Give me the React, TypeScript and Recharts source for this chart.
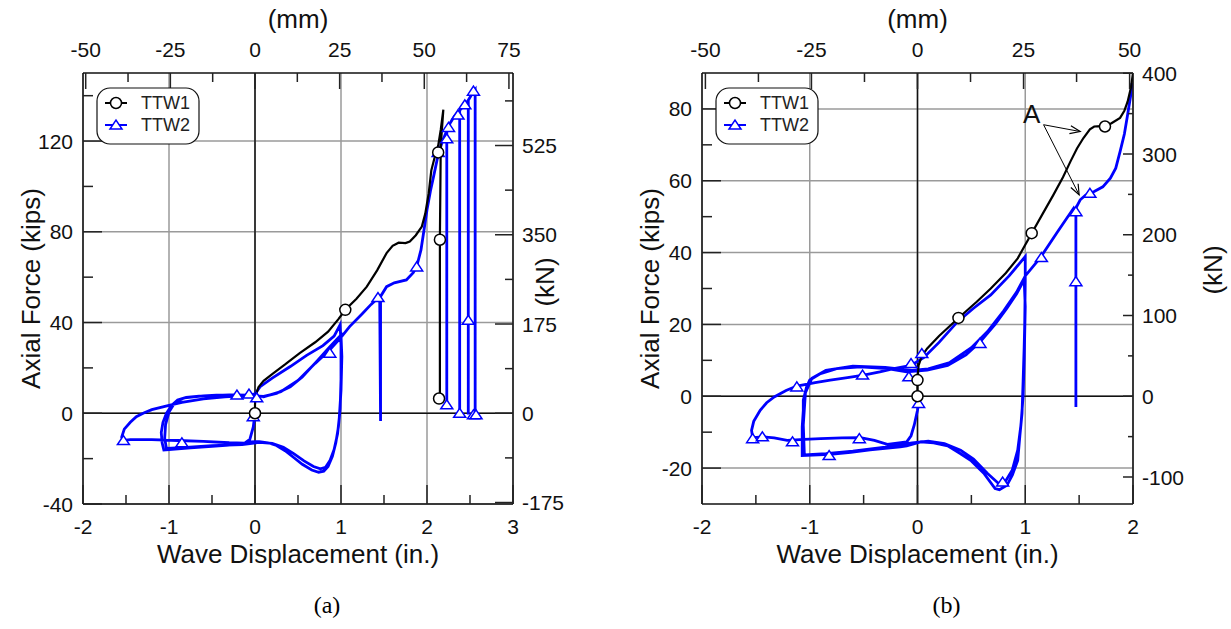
import React from "react";
import {
  ComposedChart,
  Line,
  Scatter,
  XAxis,
  YAxis,
  CartesianGrid,
  ReferenceLine,
  ReferenceDot,
  Legend,
} from "recharts";

type Pt = [number, number];

const KN_PER_KIP = 4.448;
const MM_PER_IN = 25.4;
const SANS = "'Liberation Sans', Arial, sans-serif";
const BLUE = "#0000ff";

// ---------- panel (a) ----------
const ttw1A: Pt[] = [
  [0, 0], [0, 4], [0.01, 8], [0.04, 11.5], [0.1, 14.3], [0.2, 17.3], [0.35, 21.5],
  [0.52, 26.5], [0.7, 31.3], [0.85, 36], [0.97, 41.5], [1.05, 45.6], [1.18, 50.5],
  [1.3, 55.8], [1.42, 63], [1.53, 70.6], [1.6, 73.8], [1.67, 75.2], [1.75, 75],
  [1.8, 75.7], [1.87, 78.5], [1.94, 82.3], [1.98, 88], [2.02, 97], [2.05, 107],
  [2.09, 113], [2.13, 118], [2.16, 125], [2.19, 133.8], [2.16, 118], [2.15, 77], [2.15, 6],
];
const ttw1AMarks: Pt[] = [[0, 0], [1.05, 45.6], [2.13, 115], [2.15, 76.5], [2.14, 6.5]];

const ttw2A: Pt[] = [
  [0, 0], [-0.02, -6], [-0.06, -11.5], [-0.12, -13.2], [-0.3, -13], [-0.6, -12.4],
  [-0.9, -12], [-1.2, -11.6], [-1.45, -11.6], [-1.53, -12], [-1.55, -10.5], [-1.52, -7],
  [-1.45, -4], [-1.38, -1.5], [-1.3, 0], [-1.2, 1.6], [-1.0, 3.5], [-0.85, 4.8],
  [-0.6, 6.3], [-0.35, 7.2], [-0.1, 7.8], [0, 8.5],
  [0.06, 11.7], [0.2, 15.5], [0.41, 20.6], [0.6, 25.5], [0.79, 29.8], [0.92, 34], [0.99, 39],
  [1.0, 30], [1.0, 15], [0.99, 2], [0.97, -6], [0.94, -13], [0.9, -19], [0.85, -23.5],
  [0.8, -25.5], [0.74, -26], [0.66, -25], [0.55, -22.5], [0.45, -19.5], [0.35, -16.5],
  [0.25, -14.2], [0.15, -13], [0.05, -12.5], [-0.05, -12.6], [-0.15, -13.5],
  [-0.3, -14], [-0.5, -14.6], [-0.75, -15.3], [-1.0, -16], [-1.06, -16.2], [-1.08, -13],
  [-1.09, -8.5], [-1.07, -4], [-1.03, 0], [-0.97, 3.5], [-0.9, 5.8], [-0.8, 7],
  [-0.65, 7.6], [-0.45, 8], [-0.2, 8], [-0.05, 7.8],
  [0.1, 7.4], [0.25, 8.8], [0.41, 11.7], [0.55, 16], [0.72, 23], [0.85, 28.5], [0.95, 32.5], [1.0, 34.5],
  [1.01, 25], [1.0, 10], [0.98, -2], [0.96, -9], [0.92, -16], [0.87, -21], [0.82, -23.8],
  [0.76, -24.5], [0.68, -23.5], [0.57, -21], [0.45, -17.8], [0.33, -15], [0.2, -13.3],
  [0.05, -12.8], [-0.15, -13.8], [-0.5, -14.3], [-0.8, -15], [-1.03, -15.5], [-1.05, -11],
  [-1.04, -5], [-1.0, 0.5], [-0.93, 4.8], [-0.82, 6.8], [-0.6, 7.7], [-0.3, 8.1], [-0.05, 8],
  [0.1, 7.2], [0.3, 9.5], [0.5, 14.5], [0.7, 22], [0.87, 28], [1.0, 33.5], [1.1, 38.2],
  [1.25, 44], [1.35, 48], [1.45, 51.5], [1.46, -3.4], [1.46, 51.5], [1.53, 55.8],
  [1.62, 57.5], [1.76, 58.8], [1.84, 62], [1.88, 64.7], [1.93, 72], [1.97, 82], [2.0, 89.7],
  [2.04, 98], [2.08, 105], [2.13, 114], [2.18, 120], [2.23, 124.5], [2.23, 3.7], [2.23, 124.5],
  [2.27, 128], [2.32, 131], [2.38, 133.5], [2.38, -0.5], [2.38, 133.5], [2.44, 136],
  [2.48, 138], [2.48, -0.5], [2.48, 138], [2.52, 140.5], [2.56, 142.6], [2.56, -1],
];
const ttw2AMarks: Pt[] = [
  [-1.53, -12], [-0.85, -13], [-0.21, 8], [-0.07, 8.5], [0.02, 6.8], [-0.02, -1.5],
  [0.87, 26.5], [1.43, 51], [1.88, 64.5], [2.13, 115], [2.23, 121], [2.25, 126],
  [2.36, 131.5], [2.44, 136], [2.54, 142], [2.23, 3.7], [2.38, 0], [2.48, 41],
  [2.54, -0.7], [2.57, -0.7],
];

// ---------- panel (b) ----------
const ttw1B: Pt[] = [
  [0, 0], [0, 4.5], [0.01, 8.6], [0.04, 11.2], [0.09, 13.3], [0.2, 16.8], [0.38, 21.8],
  [0.55, 26.3], [0.68, 30], [0.82, 34.3], [0.93, 38.4], [1.06, 45.4], [1.16, 50.7],
  [1.26, 56], [1.35, 61], [1.42, 65.4], [1.48, 69], [1.54, 71.9], [1.6, 74.3], [1.64, 75.1],
  [1.7, 75.2], [1.74, 75.1], [1.8, 76], [1.88, 77.5], [1.92, 79.5], [1.95, 82], [1.98, 85.8],
  [2.0, 90],
];
const ttw1BMarks: Pt[] = [[0, 0], [0, 4.5], [0.38, 21.8], [1.06, 45.4], [1.74, 75.1]];

const ttw2B: Pt[] = [
  [0, 0], [0.01, -2], [0, -3.9], [-0.03, -8], [-0.06, -11], [-0.1, -12.7], [-0.28, -13.4],
  [-0.4, -12.3], [-0.53, -11.5], [-0.7, -11.6], [-0.9, -11.8], [-1.05, -12], [-1.21, -12.3],
  [-1.33, -11.6], [-1.43, -11.3], [-1.53, -11.5], [-1.54, -9.5], [-1.52, -7], [-1.46, -3.9],
  [-1.4, -1.8], [-1.33, -0.2], [-1.22, 1.6], [-1.12, 2.8], [-0.95, 3.8], [-0.81, 4.5],
  [-0.65, 5.2], [-0.5, 5.9], [-0.35, 6.8], [-0.22, 7.7], [-0.06, 8.6],
  [0.06, 10.8], [0.2, 15], [0.37, 20.7], [0.52, 24.5], [0.68, 28.2], [0.85, 33.5], [1.0, 38.9],
  [1.0, 32], [0.995, 20], [0.99, 13.7], [0.98, 4], [0.97, -4.8], [0.95, -11], [0.93, -17.9],
  [0.88, -22], [0.83, -24.8], [0.76, -26], [0.72, -25.7], [0.62, -21.6], [0.5, -18],
  [0.4, -16], [0.28, -13.8], [0.15, -13], [0.03, -12.7], [-0.1, -13.8], [-0.16, -14.1],
  [-0.3, -14.5], [-0.44, -14.9], [-0.62, -15.6], [-0.81, -16.2], [-1.07, -16.5],
  [-1.07, -12], [-1.07, -8.6], [-1.06, -4], [-1.06, -1.1], [-1.03, 2.5], [-1.0, 4.5],
  [-0.9, 6.3], [-0.75, 7.7], [-0.53, 8.2], [-0.28, 7.7], [-0.1, 6.8], [0.09, 7.3],
  [0.28, 8.6], [0.45, 11.5], [0.58, 15.1], [0.72, 20], [0.83, 24.5], [0.92, 28.5], [0.99, 32.4],
  [1.0, 25], [0.99, 10], [0.98, 0], [0.96, -8], [0.93, -15], [0.88, -20.5], [0.81, -24],
  [0.76, -24.5], [0.65, -21.5], [0.52, -17.5], [0.4, -15], [0.25, -13.2], [0.1, -12.5],
  [-0.05, -13], [-0.3, -14.2], [-0.6, -15.3], [-0.85, -16], [-1.05, -16.3], [-1.06, -8],
  [-1.04, 1], [-0.98, 5], [-0.85, 7.2], [-0.6, 8.4], [-0.3, 8], [-0.05, 7.2], [0.1, 7.6],
  [0.3, 9.4], [0.5, 13.5], [0.65, 18], [0.8, 23.8], [0.92, 29], [1.0, 33.5], [1.14, 38.6],
  [1.3, 45.8], [1.45, 52.4], [1.47, 51.4], [1.47, -3], [1.47, 52.4], [1.51, 54.7], [1.56, 56],
  [1.64, 57], [1.72, 58.3], [1.79, 60.7], [1.84, 63.5], [1.88, 68.1], [1.92, 73], [1.95, 78.4],
  [1.98, 84], [1.99, 87.2],
];
const ttw2BMarks: Pt[] = [
  [-1.53, -11.8], [-1.44, -11.3], [-1.16, -12.7], [-0.54, -11.8], [-0.82, -16.5],
  [-1.12, 2.6], [-0.51, 5.9], [-0.06, 9.1], [-0.08, 5.4], [0.04, 11.9], [0.01, -2],
  [0.58, 14.7], [1.15, 38.6], [1.47, 51.4], [1.47, 31.9], [1.6, 56.5], [0.79, -23.9],
];

// annotation "A" (panel b)
const labelA: Pt = [1.06, 78.6];
const arrowsB: { from: Pt; to: Pt }[] = [
  { from: [1.17, 75.6], to: [1.51, 73.7] },
  { from: [1.17, 75.6], to: [1.5, 56.1] },
];

const rows = (pts: Pt[]) => pts.map(([x, y]) => ({ x, y }));

function AxisTick(props: any) {
  const { x, y, payload, side, majors, major, minor } = props;
  const v = payload.value;
  const isMajor = majors.includes(v);
  const len = isMajor ? major : minor;
  const font = { fontFamily: SANS, fontSize: 21, fill: "#111" };
  let ln: number[] = [x, y, x, y];
  let label: React.ReactNode = null;
  if (side === "left") {
    ln = [x, y, x + len, y];
    label = <text x={x - 10} y={y} dy="0.36em" textAnchor="end" {...font}>{v}</text>;
  } else if (side === "right") {
    ln = [x, y, x - len, y];
    label = <text x={x + 9} y={y} dy="0.36em" textAnchor="start" {...font}>{v}</text>;
  } else if (side === "bottom") {
    ln = [x, y, x, y - len];
    label = <text x={x} y={y + 30} textAnchor="middle" {...font}>{v}</text>;
  } else {
    ln = [x, y, x, y + len];
    label = <text x={x} y={y - 16} textAnchor="middle" {...font}>{v}</text>;
  }
  return (
    <g>
      <line x1={ln[0]} y1={ln[1]} x2={ln[2]} y2={ln[3]} stroke="#222" strokeWidth={1.5} />
      {isMajor && label}
    </g>
  );
}

const circleShape = (color: string) => (p: any) =>
  <circle cx={p.cx} cy={p.cy} r={5.5} fill="#fff" stroke={color} strokeWidth={1.5} />;

const triangleShape = (color: string) => (p: any) => (
  <path
    d={`M${p.cx - 6},${p.cy + 4} L${p.cx + 6},${p.cy + 4} L${p.cx},${p.cy - 5} Z`}
    fill="#fff"
    stroke={color}
    strokeWidth={1.5}
  />
);

function ArrowShape(props: any) {
  const { x1, y1, x2, y2 } = props;
  const a = Math.atan2(y2 - y1, x2 - x1);
  const h = 11;
  const w = 0.38;
  const p1 = `${x2 - h * Math.cos(a - w)},${y2 - h * Math.sin(a - w)}`;
  const p2 = `${x2 - h * Math.cos(a + w)},${y2 - h * Math.sin(a + w)}`;
  return (
    <g>
      <line x1={x1} y1={y1} x2={x2} y2={y2} stroke="#000" strokeWidth={1} />
      <polyline points={`${p1} ${x2},${y2} ${p2}`} fill="none" stroke="#000" strokeWidth={1.2} />
    </g>
  );
}

function LegendBox({ payload }: any) {
  const items = (payload || [])
    .filter((e: any) => e.value === "TTW1" || e.value === "TTW2")
    .sort((a: any, b: any) => (a.value > b.value ? 1 : -1));
  return (
    <svg width={104} height={58}>
      <rect x={1} y={1} width={102} height={56} rx={13} fill="#fff" stroke="#111" strokeWidth={1.2} />
      {items.map((e: any, i: number) => {
        const cy = 16 + i * 22;
        const mk = e.value === "TTW1" ? circleShape(e.color) : triangleShape(e.color);
        return (
          <g key={e.value}>
            <line x1={9} y1={cy} x2={31} y2={cy} stroke={e.color} strokeWidth={2} />
            {mk({ cx: 20, cy })}
            <text x={45} y={cy} dy="0.36em" fontFamily={SANS} fontSize={18} fill="#222">{e.value}</text>
          </g>
        );
      })}
    </svg>
  );
}

type PanelCfg = {
  tag: string;
  width: number;
  marginRight: number;
  inDomain: [number, number];
  inMajor: number[];
  inMinor: number[];
  mmMajor: number[];
  mmMinor: number[];
  kipsDomain: [number, number];
  kipsMajor: number[];
  kipsMinor: number[];
  knMajor: number[];
  knMinor: number[];
  knTick: [number, number];
  knTitleX: number;
  knTitleY: number;
  ttw1: Pt[];
  ttw1Marks: Pt[];
  ttw2: Pt[];
  ttw2Marks: Pt[];
  annotate?: boolean;
};

const sorted = (a: number[], b: number[]) => [...a, ...b].sort((p, q) => p - q);

function Panel({ c }: { c: PanelCfg }) {
  const mmDomain = [c.inDomain[0] * MM_PER_IN, c.inDomain[1] * MM_PER_IN];
  const knDomain = [c.kipsDomain[0] * KN_PER_KIP, c.kipsDomain[1] * KN_PER_KIP];
  const axisLine = { stroke: "#111", strokeWidth: 1.5 };
  // same TTW1 record expressed in mm, used to carry the top (mm) axis
  const ttw1mm = rows(c.ttw1.map(([x, y]) => [x * MM_PER_IN, y] as Pt));
  return (
    <ComposedChart width={c.width} height={629} margin={{ top: 43, right: c.marginRight, bottom: 95, left: 33 }}>
      <CartesianGrid
        xAxisId="in"
        yAxisId="kips"
        verticalValues={c.inMajor}
        horizontalValues={c.kipsMajor}
        stroke="#9a9a9a"
        strokeWidth={1.5}
      />
      <XAxis
        xAxisId="in"
        dataKey="x"
        type="number"
        domain={c.inDomain}
        allowDataOverflow
        ticks={sorted(c.inMajor, c.inMinor)}
        interval={0}
        tickSize={0}
        tickMargin={0}
        tickLine={false}
        axisLine={axisLine}
        height={30}
        tick={(p: any) => <AxisTick {...p} side="bottom" majors={c.inMajor} major={19} minor={9} />}
        label={(p: any) => {
          const vb = p.viewBox;
          const cx = vb.x + vb.width / 2;
          return (
            <g>
              <text x={cx} y={vb.y + 59} textAnchor="middle" fontFamily={SANS} fontSize={26} fill="#111">
                Wave Displacement (in.)
              </text>
              <text x={cx + 29} y={vb.y + 109} textAnchor="middle" fontFamily="'Liberation Serif', 'Times New Roman', serif" fontSize={24} fill="#000">
                {c.tag}
              </text>
            </g>
          );
        }}
      />
      <XAxis
        xAxisId="mm"
        dataKey="x"
        orientation="top"
        type="number"
        domain={mmDomain}
        allowDataOverflow
        ticks={sorted(c.mmMajor, c.mmMinor)}
        interval={0}
        tickSize={0}
        tickMargin={0}
        tickLine={false}
        axisLine={axisLine}
        height={30}
        tick={(p: any) => <AxisTick {...p} side="top" majors={c.mmMajor} major={16} minor={9} />}
        label={(p: any) => {
          const vb = p.viewBox;
          return (
            <text x={vb.x + vb.width / 2} y={vb.y + vb.height - 45} textAnchor="middle" fontFamily={SANS} fontSize={26} fill="#111">
              (mm)
            </text>
          );
        }}
      />
      <YAxis
        yAxisId="kips"
        dataKey="y"
        type="number"
        domain={c.kipsDomain}
        allowDataOverflow
        ticks={sorted(c.kipsMajor, c.kipsMinor)}
        interval={0}
        tickSize={0}
        tickMargin={0}
        tickLine={false}
        axisLine={axisLine}
        width={50}
        tick={(p: any) => <AxisTick {...p} side="left" majors={c.kipsMajor} major={19} minor={10} />}
        label={(p: any) => {
          const vb = p.viewBox;
          const bx = vb.x + vb.width - 43;
          const cy = vb.y + vb.height / 2;
          return (
            <text x={bx} y={cy} transform={`rotate(-90 ${bx} ${cy})`} textAnchor="middle" fontFamily={SANS} fontSize={26} fill="#111">
              Axial Force (kips)
            </text>
          );
        }}
      />
      <YAxis
        yAxisId="kN"
        orientation="right"
        type="number"
        domain={knDomain}
        allowDataOverflow
        ticks={sorted(c.knMajor, c.knMinor)}
        interval={0}
        tickSize={0}
        tickMargin={0}
        tickLine={false}
        axisLine={axisLine}
        width={50}
        tick={(p: any) => <AxisTick {...p} side="right" majors={c.knMajor} major={c.knTick[0]} minor={c.knTick[1]} />}
        label={(p: any) => {
          const vb = p.viewBox;
          const bx = vb.x + c.knTitleX;
          const cy = c.knTitleY;
          return (
            <text x={bx} y={cy} transform={`rotate(-90 ${bx} ${cy})`} textAnchor="middle" fontFamily={SANS} fontSize={26} fill="#111">
              (kN)
            </text>
          );
        }}
      />
      <ReferenceLine xAxisId="in" yAxisId="kips" x={0} stroke="#111" strokeWidth={1.5} />
      <ReferenceLine xAxisId="in" yAxisId="kips" y={0} stroke="#111" strokeWidth={1.5} />

      <Line xAxisId="mm" yAxisId="kips" data={ttw1mm} dataKey="y" name="mm" type="linear"
        stroke="none" strokeWidth={0} dot={false} activeDot={false} legendType="none" isAnimationActive={false} />
      <Line xAxisId="in" yAxisId="kips" data={rows(c.ttw2)} dataKey="y" name="TTW2" type="linear"
        stroke={BLUE} strokeWidth={2.8} dot={false} activeDot={false} isAnimationActive={false} />
      <Line xAxisId="in" yAxisId="kips" data={rows(c.ttw1)} dataKey="y" name="TTW1" type="linear"
        stroke="#000" strokeWidth={2.2} dot={false} activeDot={false} isAnimationActive={false} />
      <Scatter xAxisId="in" yAxisId="kips" data={rows(c.ttw2Marks)} dataKey="y" legendType="none"
        shape={triangleShape(BLUE)} isAnimationActive={false} />
      <Scatter xAxisId="in" yAxisId="kips" data={rows(c.ttw1Marks)} dataKey="y" legendType="none"
        shape={circleShape("#000")} isAnimationActive={false} />

      {c.annotate &&
        arrowsB.map((a, i) => (
          <ReferenceLine
            key={i}
            xAxisId="in"
            yAxisId="kips"
            segment={[{ x: a.from[0], y: a.from[1] }, { x: a.to[0], y: a.to[1] }]}
            shape={ArrowShape}
            ifOverflow="visible"
          />
        ))}
      {c.annotate && (
        <ReferenceDot
          xAxisId="in"
          yAxisId="kips"
          x={labelA[0]}
          y={labelA[1]}
          r={0}
          fill="none"
          stroke="none"
          label={{ value: "A", position: "center", fontFamily: SANS, fontSize: 26, fill: "#111" }}
        />
      )}

      <Legend
        layout="horizontal"
        verticalAlign="middle"
        align="center"
        content={LegendBox}
        wrapperStyle={{ left: 96, top: 87, width: 104, height: 58 }}
      />
    </ComposedChart>
  );
}

const panelA: PanelCfg = {
  tag: "(a)",
  width: 600,
  marginRight: 37,
  inDomain: [-2, 3],
  inMajor: [-2, -1, 0, 1, 2, 3],
  inMinor: [-1.5, -0.5, 0.5, 1.5, 2.5],
  mmMajor: [-50, -25, 0, 25, 50, 75],
  mmMinor: [-37.5, -12.5, 12.5, 37.5, 62.5],
  kipsDomain: [-40, 150],
  kipsMajor: [-40, 0, 40, 80, 120],
  kipsMinor: [-20, 20, 60, 100, 140],
  knMajor: [-175, 0, 175, 350, 525],
  knMinor: [-87.5, 87.5, 262.5, 437.5, 612.5],
  knTick: [18, 8],
  knTitleX: 41,
  knTitleY: 282,
  ttw1: ttw1A,
  ttw1Marks: ttw1AMarks,
  ttw2: ttw2A,
  ttw2Marks: ttw2AMarks,
};

const panelB: PanelCfg = {
  tag: "(b)",
  width: 612,
  marginRight: 48,
  inDomain: [-2, 2],
  inMajor: [-2, -1, 0, 1, 2],
  inMinor: [-1.5, -0.5, 0.5, 1.5],
  mmMajor: [-50, -25, 0, 25, 50],
  mmMinor: [-37.5, -12.5, 12.5, 37.5],
  kipsDomain: [-30, 90],
  kipsMajor: [-20, 0, 20, 40, 60, 80],
  kipsMinor: [-10, 10, 30, 50, 70],
  knMajor: [-100, 0, 100, 200, 300, 400],
  knMinor: [-50, 50, 150, 250, 350],
  knTick: [10, 5],
  knTitleX: 89,
  knTitleY: 270,
  ttw1: ttw1B,
  ttw1Marks: ttw1BMarks,
  ttw2: ttw2B,
  ttw2Marks: ttw2BMarks,
  annotate: true,
};

export default function App() {
  return (
    <div style={{ position: "absolute", left: 0, top: 0, width: 1231, height: 629, background: "#fff" }}>
      <div style={{ position: "absolute", left: 0, top: 0 }}>
        <Panel c={panelA} />
      </div>
      <div style={{ position: "absolute", left: 619, top: 0 }}>
        <Panel c={panelB} />
      </div>
    </div>
  );
}
